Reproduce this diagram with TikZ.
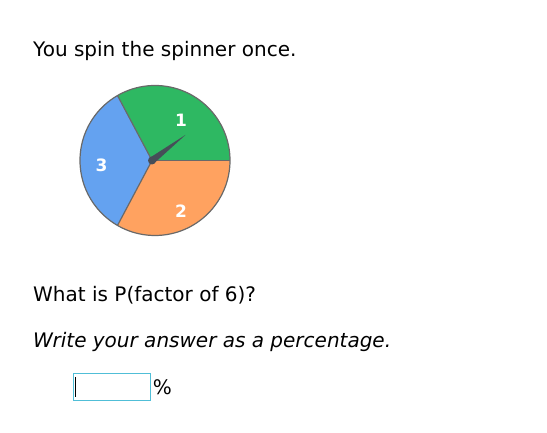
\documentclass[tikz,border=0pt]{standalone}
\usepackage{fontspec}
\setmainfont{DejaVu Sans}
\usetikzlibrary{calc}
\definecolor{sgreen}{RGB}{46,184,98}
\definecolor{sblue}{RGB}{100,162,240}
\definecolor{sorange}{RGB}{255,162,96}
\definecolor{sborder}{RGB}{105,105,105}
\definecolor{needle}{RGB}{70,78,88}
\definecolor{boxblue}{RGB}{80,190,215}
\tikzset{
  sector/.style={draw=sborder, line width=1.2bp},
  numlabel/.style={text=white, font=\fontsize{17bp}{19bp}\selectfont\bfseries},
  bodytext/.style={anchor=base west, inner sep=0pt, font=\fontsize{20bp}{24bp}\selectfont},
}
\begin{document}
\begin{tikzpicture}[x=1bp,y=1bp]
\useasboundingbox (0,0) rectangle (547,433);
\node[bodytext] (q1) at (33,376.5) {You spin the spinner once.};
% spinner
\coordinate (c) at (155,272.5);
\coordinate (w) at (152,272.5);
\coordinate (e0) at ($(c)+(0:75)$);
\coordinate (e1) at ($(c)+(120:75)$);
\coordinate (e2) at ($(c)+(240:75)$);
\fill[sgreen] (w) -- (e0) arc (0:120:75) -- cycle;
\fill[sblue] (w) -- (e1) arc (120:240:75) -- cycle;
\fill[sorange] (w) -- (e2) arc (240:360:75) -- cycle;
\draw[sector] (w) -- (e0);
\draw[sector] (w) -- (e1);
\draw[sector] (w) -- (e2);
\draw[sector] (c) circle (75);
\node[numlabel] (n1) at (181,313) {1};
\node[numlabel] (n2) at (181,221.5) {2};
\node[numlabel] (n3) at (101.5,268) {3};
% needle
\fill[needle] ($(w)+(130:3.5)$) -- ($(c)+(40:40)$) -- ($(w)+(-50:3.5)$) -- cycle;
\fill[needle] (w) circle (4);
\node[bodytext] (q2) at (33,131) {What is P(factor of 6)?};
\node[bodytext, font=\fontsize{20bp}{24bp}\selectfont\itshape] (q3) at (33,85.5) {Write your answer as a percentage.};
\node[draw=boxblue, line width=1.2bp, minimum width=77bp, minimum height=27bp, inner sep=0pt, anchor=north west] (box) at (73,60) {};
\draw[black, line width=1.2bp] ([xshift=2.5bp,yshift=-4bp]box.north west) -- ([xshift=2.5bp,yshift=4bp]box.south west);
\node[anchor=west, inner sep=0pt, font=\fontsize{20bp}{24bp}\selectfont] (pct) at ([xshift=1.5bp]box.east) {\%};
\end{tikzpicture}
\end{document}
